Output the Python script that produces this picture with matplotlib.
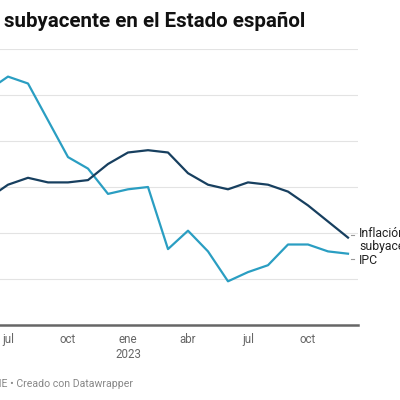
import matplotlib.pyplot as plt
import numpy as np

# jun 2022 .. dic 2023, monthly
months = ["jun", "jul", "ago", "sep", "oct", "nov", "dic",
          "ene", "feb", "mar", "abr", "may", "jun", "jul", "ago", "sep", "oct", "nov", "dic"]
ipc = [10.2, 10.8, 10.5, 8.9, 7.3, 6.8, 5.7,
       5.9, 6.0, 3.3, 4.1, 3.2, 1.9, 2.3, 2.6, 3.5, 3.5, 3.2, 3.1]
subyacente = [5.5, 6.1, 6.4, 6.2, 6.2, 6.3, 7.0,
              7.5, 7.6, 7.5, 6.6, 6.1, 5.9, 6.2, 6.1, 5.8, 5.2, 4.5, 3.8]

tick_idx = [1, 4, 7, 10, 13, 16]
tick_labels = ["jul", "oct", "ene\n2023", "abr", "jul", "oct"]
y_grid = [2, 4, 6, 8, 10, 12]

NAVY = "#173f5f"
BLUE = "#2a9ec2"

plt.rcParams["font.family"] = ["Roboto", "DejaVu Sans"]

fig = plt.figure(figsize=(4, 4), dpi=100)
ax = fig.add_axes([0.0, 0.1875, 0.895, 0.69])

x = np.arange(len(months))
ax.plot(x, ipc, color=BLUE, lw=1.6, solid_joinstyle="round")
ax.plot(x, subyacente, color=NAVY, lw=1.6, solid_joinstyle="round")

ax.set_xlim(0.6, 18.5)
ax.set_ylim(0, 12)
for g in y_grid:
    ax.axhline(g, color="#e3e3e3", lw=0.8, zorder=0)
ax.axhline(0, color="#666666", lw=1.8, clip_on=False)

for s in ax.spines.values():
    s.set_visible(False)
ax.set_yticks([])
ax.set_xticks(tick_idx)
ax.set_xticklabels(tick_labels, color="#666666", fontsize=8.3, linespacing=1.15)
ax.tick_params(axis="x", length=0, pad=6)

# line labels at the right end
last = x[-1]
ax.annotate("Inflación\nsubyacente", xy=(last, subyacente[-1]), xytext=(359, 160),
            textcoords="figure pixels", va="center", ha="left", fontsize=8.8,
            color="#222222", linespacing=1.0, annotation_clip=False)
ax.annotate("IPC", xy=(last, ipc[-1]), xytext=(359, 139),
            textcoords="figure pixels", va="center", ha="left", fontsize=8.8,
            color="#222222", annotation_clip=False)
ax.plot([last + 0.15, last + 0.3], [subyacente[-1] + 0.1, subyacente[-1] + 0.1],
        color="#999999", lw=0.8, clip_on=False)
ax.plot([last + 0.15, last + 0.3], [ipc[-1] - 0.25, ipc[-1] - 0.25],
        color="#999999", lw=0.8, clip_on=False)

fig.text(305 / 400, 1 - 21 / 400, "subyacente en el Estado español", ha="right", va="center",
         fontsize=14.8, fontweight="bold", color="#111111")
fig.text(133 / 400, 1 - 384 / 400, "Fuente: INE • Creado con Datawrapper", ha="right",
         va="center", fontsize=7.6, color="#888888")

fig.savefig("out.png", dpi=100)
